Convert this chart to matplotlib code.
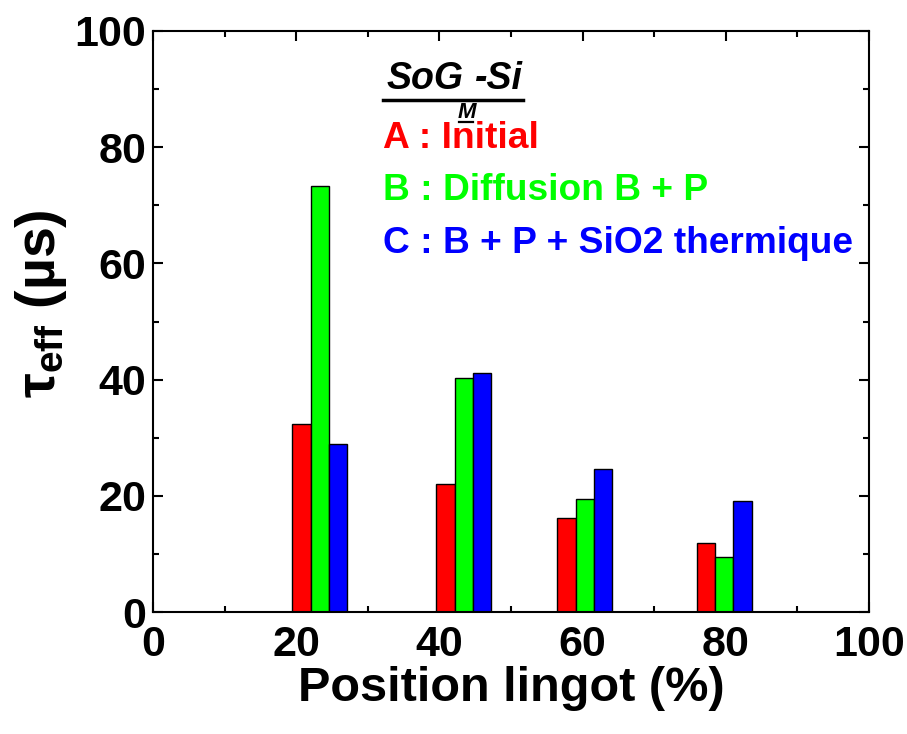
import numpy as np
import matplotlib
matplotlib.use("Agg")
import matplotlib.pyplot as plt
from matplotlib.ticker import MultipleLocator
from matplotlib.lines import Line2D

plt.rcParams['font.family'] = ['Liberation Sans', 'DejaVu Sans']
plt.rcParams['font.weight'] = 'bold'
plt.rcParams['mathtext.default'] = 'regular'

# data
positions = [23.3, 43.4, 60.3, 79.8]      # centre of each group (%)
tau_initial = [32.3, 22.0, 16.1, 11.9]    # A : Initial
tau_diffusion = [73.3, 40.3, 19.4, 9.5]   # B : Diffusion B + P
tau_sio2 = [28.9, 41.2, 24.6, 19.1]       # C : B + P + SiO2 thermique
labels = ["A : Initial", "B : Diffusion B + P", "C : B + P + SiO2 thermique"]
colors = ["#ff0000", "#00ff00", "#0000ff"]

width = 2.55
pos = np.array(positions)

fig = plt.figure(figsize=(9.07, 7.34), dpi=100)
ax = fig.add_axes([153 / 907, 122 / 734, 716 / 907, 581 / 734])

for k, vals in enumerate([tau_initial, tau_diffusion, tau_sio2]):
    ax.bar(pos + (k - 1) * width, vals, width=width, color=colors[k],
           edgecolor='black', linewidth=1.0, zorder=2)

ax.set_xlim(0, 100)
ax.set_ylim(0, 100)
ax.xaxis.set_major_locator(MultipleLocator(20))
ax.xaxis.set_minor_locator(MultipleLocator(10))
ax.yaxis.set_major_locator(MultipleLocator(20))
ax.yaxis.set_minor_locator(MultipleLocator(10))
ax.tick_params(which='both', direction='in', top=True, right=True, width=1.5)
ax.tick_params(which='major', length=7)
ax.tick_params(which='minor', length=4)
ax.tick_params(axis='y', which='major', labelsize=31, pad=5)
ax.tick_params(axis='x', which='major', labelsize=31, pad=9)
for s in ax.spines.values():
    s.set_linewidth(1.5)

ax.set_xlabel("Position lingot (%)", fontsize=35, fontweight='bold', labelpad=1)
ax.set_ylabel(r"$τ_{eff}$ (µs)", fontsize=40, fontweight='bold')
ax.yaxis.set_label_coords(-0.117, 0.53)

# legend-like text block
x0 = 0.321
ys = [0.799, 0.709, 0.618]
for lab, c, y in zip(labels, colors, ys):
    ax.text(x0, y, lab, color=c, fontsize=26.7, fontweight='bold',
            transform=ax.transAxes, va='baseline', ha='left')

# underlined title "SoG_M-Si"
fig.canvas.draw()
r = fig.canvas.get_renderer()
ty = 0.900
t1 = ax.text(x0 + 0.005, ty, "SoG", fontsize=27, fontweight='bold',
             fontstyle='italic', transform=ax.transAxes, va='baseline', ha='left')
bb1 = t1.get_window_extent(r).transformed(ax.transAxes.inverted())
t2 = ax.text(bb1.x1 - 0.008, ty - 0.050, "M", fontsize=16, fontweight='bold',
             fontstyle='italic', transform=ax.transAxes, va='baseline', ha='left')
bb2 = t2.get_window_extent(r).transformed(ax.transAxes.inverted())
t3 = ax.text(bb2.x1 - 0.002, ty, "-Si", fontsize=27, fontweight='bold',
             fontstyle='italic', transform=ax.transAxes, va='baseline', ha='left')
bb3 = t3.get_window_extent(r).transformed(ax.transAxes.inverted())
ax.add_line(Line2D([x0, bb3.x1], [ty - 0.019, ty - 0.019], color='black',
                   linewidth=2.5, transform=ax.transAxes))
ax.add_line(Line2D([bb2.x0 + 0.002, bb2.x1 - 0.004], [ty - 0.056, ty - 0.056],
                   color='black', linewidth=1.6, transform=ax.transAxes))

fig.savefig("out.png", dpi=100)
